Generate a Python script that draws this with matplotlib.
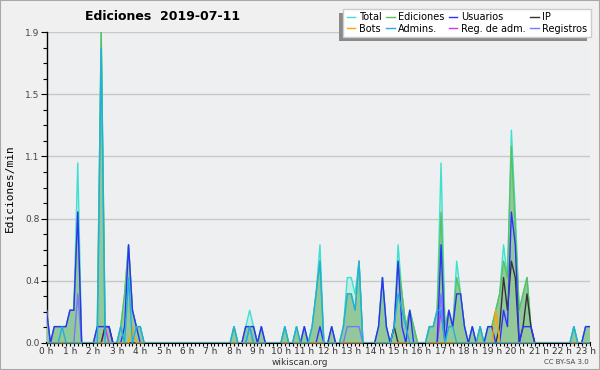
import numpy as np
import matplotlib
matplotlib.use("Agg")
import matplotlib.pyplot as plt
from matplotlib.patches import Rectangle

# 10-minute bins from 0h00 to 23h10, values in edits per minute
n_bins = 140
y_max = 1.9

total = {0: 0.2, 2: 0.1, 3: 0.1, 4: 0.1, 5: 0.1, 6: 0.2, 7: 0.2, 8: 1.1,
         13: 0.1, 14: 1.9, 15: 0.1, 16: 0.1,
         19: 0.1, 20: 0.3, 21: 0.6, 22: 0.2, 23: 0.1, 24: 0.1,
         48: 0.1, 51: 0.1, 52: 0.2, 53: 0.1, 55: 0.1,
         61: 0.1, 64: 0.1, 66: 0.1, 68: 0.1, 69: 0.3, 70: 0.6,
         73: 0.1, 76: 0.1, 77: 0.4, 78: 0.4, 79: 0.3, 80: 0.5,
         85: 0.1, 86: 0.4, 87: 0.1, 89: 0.1, 90: 0.6, 91: 0.3, 92: 0.1, 93: 0.2, 94: 0.1,
         98: 0.1, 99: 0.1, 100: 0.2, 101: 1.1, 102: 0.1, 103: 0.2, 104: 0.1, 105: 0.5,
         106: 0.3, 107: 0.1,
         109: 0.1, 111: 0.1, 113: 0.1, 114: 0.1, 115: 0.2, 116: 0.3, 117: 0.6, 118: 0.4,
         119: 1.3, 120: 0.8, 121: 0.2, 122: 0.3, 123: 0.4, 124: 0.1,
         135: 0.1, 138: 0.1, 139: 0.1}

edits = {0: 0.2, 2: 0.1, 3: 0.1, 4: 0.1, 5: 0.1, 6: 0.2, 7: 0.2, 8: 0.8,
         13: 0.1, 14: 1.9, 15: 0.1, 16: 0.1,
         19: 0.1, 20: 0.3, 21: 0.6, 22: 0.2, 23: 0.1, 24: 0.1,
         48: 0.1, 51: 0.1, 52: 0.1, 53: 0.1, 55: 0.1,
         61: 0.1, 64: 0.1, 66: 0.1, 68: 0.1, 69: 0.3, 70: 0.5,
         73: 0.1, 76: 0.1, 77: 0.3, 78: 0.3, 79: 0.2, 80: 0.5,
         85: 0.1, 86: 0.4, 87: 0.1, 89: 0.1, 90: 0.5, 91: 0.3, 92: 0.1, 93: 0.2, 94: 0.1,
         98: 0.1, 99: 0.1, 100: 0.2, 101: 0.8, 102: 0.1, 103: 0.2, 104: 0.1, 105: 0.4,
         106: 0.3, 107: 0.1,
         109: 0.1, 111: 0.1, 113: 0.1, 114: 0.1, 115: 0.2, 116: 0.3, 117: 0.5, 118: 0.4,
         119: 1.2, 120: 0.7, 121: 0.2, 122: 0.3, 123: 0.4, 124: 0.1,
         135: 0.1, 138: 0.1, 139: 0.1}

users = {0: 0.2, 2: 0.1, 3: 0.1, 4: 0.1, 5: 0.1, 6: 0.2, 7: 0.2, 8: 0.8,
         13: 0.1, 14: 0.1, 15: 0.1, 16: 0.1,
         20: 0.1, 21: 0.6, 22: 0.2, 23: 0.1,
         51: 0.1, 52: 0.1, 53: 0.1, 55: 0.1,
         66: 0.1, 70: 0.1, 73: 0.1,
         85: 0.1, 86: 0.4, 87: 0.1, 89: 0.1, 90: 0.5, 91: 0.1, 93: 0.2,
         101: 0.6, 103: 0.2, 104: 0.1, 105: 0.3, 106: 0.3, 107: 0.1,
         109: 0.1, 113: 0.1, 114: 0.1, 117: 0.2, 118: 0.1, 119: 0.8, 120: 0.6,
         122: 0.1, 123: 0.1, 124: 0.1,
         138: 0.1, 139: 0.1}

ip = {15: 0.1, 16: 0.1, 89: 0.1,
      116: 0.1, 117: 0.4, 118: 0.2, 119: 0.5, 120: 0.4, 122: 0.1, 123: 0.3, 124: 0.1}

bots = {22: 0.1, 115: 0.2}

admins = {4: 0.1, 14: 1.8, 19: 0.1, 21: 0.4, 23: 0.1, 24: 0.1,
          48: 0.1, 52: 0.1, 61: 0.1, 64: 0.1, 68: 0.1, 69: 0.3, 70: 0.5,
          76: 0.1, 77: 0.3, 78: 0.3, 79: 0.2, 80: 0.5,
          89: 0.1, 90: 0.3, 91: 0.2, 92: 0.1,
          98: 0.1, 99: 0.1, 100: 0.2, 101: 0.2, 103: 0.1, 104: 0.1, 111: 0.1, 135: 0.1}

reg_adm = {15: 0.1, 101: 0.2}

registros = {8: 0.3, 52: 0.1, 77: 0.1, 78: 0.1, 79: 0.1, 80: 0.1, 101: 0.3}

hours = list(range(24))


def expand(d):
    a = np.zeros(n_bins)
    for k, v in d.items():
        a[k] = v
    return a


t = np.arange(n_bins) / 6.0

fig = plt.figure(figsize=(6, 3.7), dpi=100, facecolor="#f0f0f0")
W, H = 600, 370
ax = fig.add_axes([46.5 / W, 1 - 343 / H, (589.5 - 46.5) / W, (343 - 32) / H])
ax.set_facecolor("#edeff1")

# areas
ax.fill_between(t, expand(total), color="#c4ece6", lw=0, zorder=2)
ax.fill_between(t, expand(edits), color="#93c99a", lw=0, zorder=3)

series = [
    ("Total", total, "#40e0d0", 4),
    ("Bots", bots, "#ffa500", 9),
    ("Ediciones", edits, "#5cbf5c", 5),
    ("Admins.", admins, "#1fb0e0", 10),
    ("Usuarios", users, "#2f2fff", 8),
    ("Reg. de adm.", reg_adm, "#cc33ff", 7),
    ("IP", ip, "#333333", 7),
    ("Registros", registros, "#7777ff", 6),
]
handles = []
for name, d, col, z in series:
    ln, = ax.plot(t, expand(d), color=col, lw=1.0, zorder=z, label=name)
    handles.append(ln)

ax.set_xlim(0, (n_bins - 1) / 6.0)
ax.set_ylim(0, y_max)

yt = np.linspace(0, y_max, 6)
ax.set_yticks(yt)
ax.set_yticklabels(["%.1f" % v for v in yt])
ax.set_yticks(np.linspace(0, y_max, 21), minor=True)
ax.set_xticks(hours)
ax.set_xticklabels(["%d h" % h for h in hours])
ax.set_xticks(np.arange(0, n_bins) / 6.0, minor=True)

ax.grid(axis="y", which="major", color="#c8c8c8", lw=1.0, zorder=1)
ax.tick_params(axis="y", which="major", length=4, width=0.8, labelsize=6.5,
               labelcolor="#444444", pad=1)
ax.tick_params(axis="y", which="minor", length=3, width=0.8)
ax.tick_params(axis="x", which="both", length=2.5, width=0.8, labelsize=6.5,
               labelcolor="#333333", pad=0.5)

for s in ["top", "right"]:
    ax.spines[s].set_visible(False)
ax.spines["left"].set_linewidth(1.0)
ax.spines["bottom"].set_linewidth(1.5)

fig.text(85 / W, 1 - 17 / H, "Ediciones  2019-07-11", weight="bold", size=9,
         ha="left", va="center")
fig.text(10 / W, 1 - 188 / H, "Ediciones/min", rotation=90, family="DejaVu Sans Mono",
         size=8, ha="center", va="center")
fig.text(300 / W, 1 - 362.5 / H, "wikiscan.org", size=6.5, ha="center", va="center",
         color="#333333")
fig.text(589 / W, 1 - 362.5 / H, "CC BY-SA 3.0", size=5, ha="right", va="center",
         color="#444444")

leg = fig.legend(handles=handles, loc="upper right", bbox_to_anchor=(591 / W, 1 - 9 / H),
                 ncol=4, fontsize=7, frameon=True, fancybox=False,
                 handlelength=0.9, handletextpad=0.4, columnspacing=0.4,
                 labelspacing=0.15, borderpad=0.35, borderaxespad=0)
leg.get_frame().set_edgecolor("#cccccc")
leg.get_frame().set_facecolor("white")
leg.get_frame().set_alpha(1)
leg.set_zorder(20)

fig.canvas.draw()
bb = leg.get_window_extent().transformed(fig.transFigure.inverted())
fig.patches.append(Rectangle((bb.x0 - 4 / W, bb.y0 - 4 / H), bb.width, bb.height,
                             transform=fig.transFigure, facecolor="#8a8a8a",
                             edgecolor="none", zorder=15))
fig.patches.append(Rectangle((0, 0), 1, 1, transform=fig.transFigure, fill=False,
                             edgecolor="#a8a8a8", lw=1.5, zorder=30))

fig.savefig("out.png", dpi=100, facecolor=fig.get_facecolor())
